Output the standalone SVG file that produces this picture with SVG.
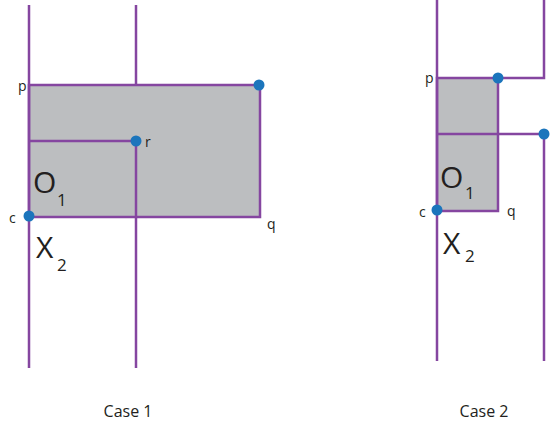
<svg xmlns="http://www.w3.org/2000/svg" width="553" height="429" viewBox="0 0 553 429">
<style>
.ln{stroke:#8546a0;stroke-width:2.5;fill:none}
.rc{fill:#bcbec0;stroke:#8546a0;stroke-width:2.5}
.dot{fill:#1b75bc}
.t{font-family:"Open Sans","Liberation Sans",sans-serif;fill:#231f20}
.s{font-size:14px}
.big{font-size:30px}
.sub{font-size:17px}
</style>
<rect width="553" height="429" fill="#fff"/>
<g id="case1">
<rect class="rc" x="29" y="85" width="231" height="132"/>
<g id="connectors1">
<line class="ln" x1="29" y1="5" x2="29" y2="368"/>
<line class="ln" x1="136" y1="5" x2="136" y2="85"/>
<line class="ln" x1="136" y1="141" x2="136" y2="368"/>
<line class="ln" x1="29" y1="141" x2="136" y2="141"/>
</g>
<circle class="dot" cx="259" cy="85" r="5.5"/>
<circle class="dot" cx="136" cy="141" r="5.5"/>
<circle class="dot" cx="29" cy="216" r="5.5"/>
<text class="t s" x="18" y="91">p</text>
<text class="t s" x="145" y="147">r</text>
<text class="t s" x="9" y="223">c</text>
<text class="t s" x="267" y="229">q</text>
<text class="t big" x="33" y="193">O</text>
<text class="t sub" x="57" y="206">1</text>
<text class="t big" x="36" y="258">X</text>
<text class="t sub" x="57" y="271">2</text>
<text class="t" x="128" y="417" font-size="16" text-anchor="middle">Case 1</text>
</g>
<g id="case2">
<rect class="rc" x="437" y="78" width="61" height="133"/>
<g id="connectors2">
<line class="ln" x1="437" y1="0" x2="437" y2="361"/>
<polyline class="ln" points="544,0 544,78 498,78"/>
<line class="ln" x1="437" y1="134" x2="544" y2="134"/>
<line class="ln" x1="544" y1="134" x2="544" y2="361"/>
</g>
<circle class="dot" cx="498" cy="78" r="5.5"/>
<circle class="dot" cx="544" cy="134" r="5.5"/>
<circle class="dot" cx="437" cy="210" r="5.5"/>
<text class="t s" x="425" y="83">p</text>
<text class="t s" x="419" y="217">c</text>
<text class="t s" x="507" y="216">q</text>
<text class="t big" x="440" y="188">O</text>
<text class="t sub" x="465" y="199">1</text>
<text class="t big" x="443" y="254">X</text>
<text class="t sub" x="465" y="262">2</text>
<text class="t" x="484" y="417" font-size="16" text-anchor="middle">Case 2</text>
</g>
</svg>
